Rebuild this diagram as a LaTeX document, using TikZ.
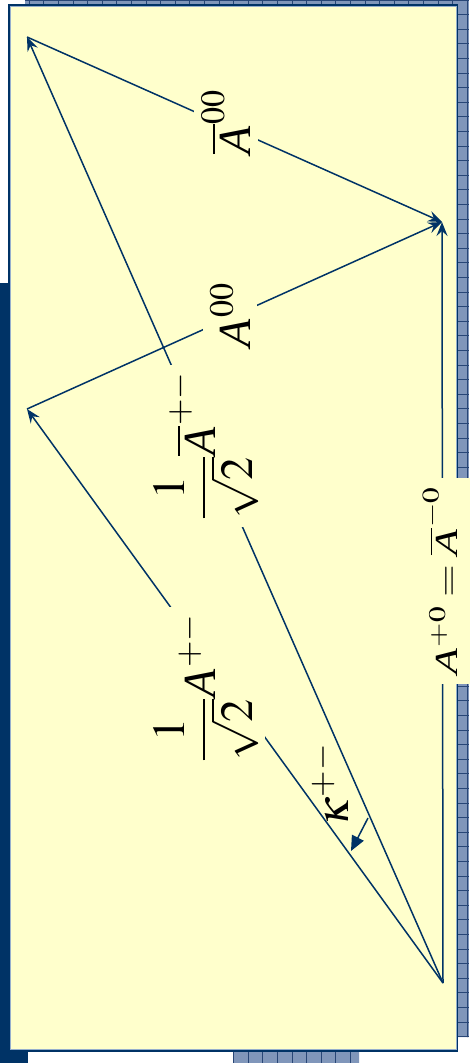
\documentclass[tikz,border=0pt]{standalone}
\usepackage{amsmath}
\usepackage{mathptmx}
\usepackage{fontspec}
\setmainfont{Liberation Serif}
\newfontfamily\itAfont{Liberation Serif Italic}
\usetikzlibrary{arrows.meta}
\definecolor{navy}{RGB}{0,51,102}
\definecolor{paleyellow}{RGB}{255,255,204}
\definecolor{gridbase}{RGB}{128,150,186}
\definecolor{gridline}{RGB}{40,70,118}
\definecolor{innerline}{RGB}{150,175,205}
\newcommand{\vA}{\mbox{\itAfont A\kern0.04em}}
\begin{document}
\begin{tikzpicture}[x=1pt,y=-1pt,
  vec/.style={draw=navy,line width=1.5pt,-{Stealth[length=14pt,width=11pt,inset=5pt]}},
  lbl/.style={fill=paleyellow,inner sep=7pt,rotate=90,font=\fontsize{46}{55}\selectfont},
  klbl/.style={inner sep=0pt,rotate=90,font=\fontsize{46}{55}\selectfont}]
\useasboundingbox (0,0) rectangle (469,1063);
\fill[white] (0,0) rectangle (469,1063);
% grid background
\begin{scope}
  \clip (25,0) rectangle (469,1037) (233,1051) rectangle (359,1063);
  \fill[gridbase] (0,0) rectangle (469,1063);
  \foreach \i in {0,...,32} \draw[gridline,line width=0.8pt] (\i*14.6,0) -- (\i*14.6,1063);
  \foreach \j in {0,...,73} \draw[gridline,line width=0.8pt] (0,\j*14.6) -- (469,\j*14.6);
\end{scope}
% navy side bar
\fill[navy] (0,283) rectangle (9,1063);
\fill[navy] (0,1051) rectangle (28,1063);
% slide panel
\fill[paleyellow] (9,5) rectangle (457,1051);
\draw[navy,line width=1.8pt] (9,5) rectangle (457.5,1051);
\draw[innerline,line width=0.6pt] (10.3,6.3) rectangle (456,1049.7);
% points
\coordinate (O) at (443,983);
\coordinate (P) at (442,222);
\coordinate (Q1) at (27,37);
\coordinate (Q2) at (27,409);
\coordinate (k1) at (368,818);
\coordinate (k2) at (351,851);
% vectors
\draw[vec] (O) -- (P);
\draw[vec] (O) -- (Q1);
\draw[vec] (O) -- (Q2);
\draw[vec] (Q1) -- (P);
\draw[vec] (Q2) -- (P);
\draw[draw=navy,line width=1.5pt,-{Triangle[length=15pt,width=13pt]}] (k1) -- (k2);
% labels
\node[lbl] (l1) at (226,122) {$\overline{\vA}^{00}$};
\node[lbl] (l2) at (230,315) {$\vA^{00}$};
\node[lbl] (l3) at (206,446) {$\dfrac{1}{\sqrt{2}}\overline{\vA}^{+-}$};
\node[lbl] (l4) at (206,688) {$\dfrac{1}{\sqrt{2}}\vA^{+-}$};
\node[lbl,inner xsep=9pt,inner ysep=22pt] (l5) at (440,581) {\scalebox{0.92}[0.7]{$\vA^{+0}=\overline{\vA}^{-0}$}};
\node[klbl] (l6) at (330,785) {$\boldsymbol{\kappa}^{+-}$};
\end{tikzpicture}
\end{document}
